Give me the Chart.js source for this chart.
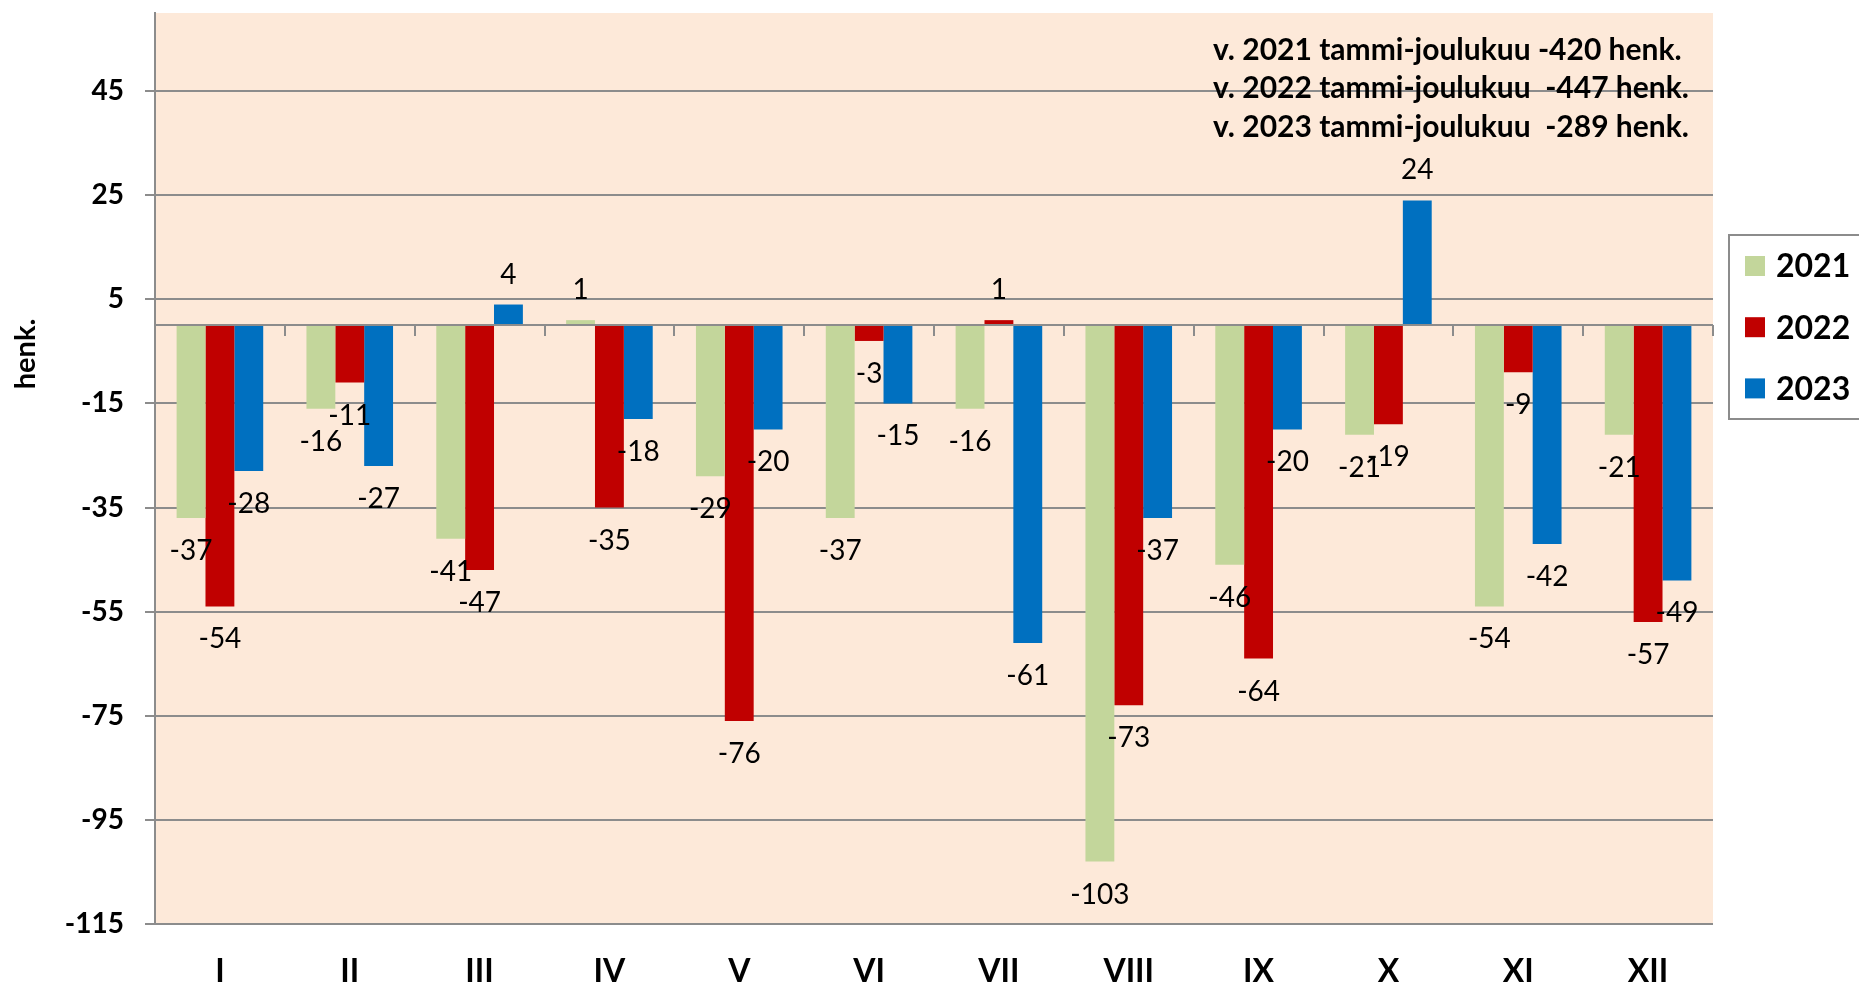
<!DOCTYPE html>
<html><head><meta charset="utf-8">
<script src="https://cdn.jsdelivr.net/npm/chart.js@4/dist/chart.umd.min.js"></script>
<style>html,body{margin:0;padding:0;background:#fff;}canvas{display:block;}</style>
</head><body>
<canvas id="c" width="1859" height="989"></canvas>
<script>
// ---- data ----
const months = ['I','II','III','IV','V','VI','VII','VIII','IX','X','XI','XII'];
const seriesNames = ['2021','2022','2023'];
const values2021 = [-37,-16,-41,1,-29,-37,-16,-103,-46,-21,-54,-21];
const values2022 = [-54,-11,-47,-35,-76,-3,1,-73,-64,-19,-9,-57];
const values2023 = [-28,-27,4,-18,-20,-15,-61,-37,-20,24,-42,-49];
const yTicks = [-115,-95,-75,-55,-35,-15,5,25,45];
const yMin = -115, yMax = 60;
const yTitle = 'henk.';
const notes = [
  'v. 2021 tammi-joulukuu -420 henk.',
  'v. 2022 tammi-joulukuu  -447 henk.',
  'v. 2023 tammi-joulukuu  -289 henk.'
];

// ---- styles ----
const FONT = "Lato, 'Open Sans', sans-serif";
const colors = ['#C3D69B','#C00000','#0070C0'];
const GRID = '#8c8c8c';
const PLOT_BG = '#FDE9D9';

const bgPlugin = {
  id: 'bg',
  beforeDraw(chart) {
    const {ctx, chartArea: a} = chart;
    ctx.save();
    ctx.fillStyle = PLOT_BG;
    ctx.fillRect(a.left, a.top, a.right - a.left, a.bottom - a.top);
    ctx.restore();
  }
};

const overlayPlugin = {
  id: 'overlay',
  afterDatasetsDraw(chart) {
    const {ctx, chartArea: a, scales} = chart;
    const xs = scales.x, ys = scales.y;
    const y0 = Math.round(ys.getPixelForValue(0));
    ctx.save();
    // zero (category) axis line with tick marks
    ctx.strokeStyle = GRID;
    ctx.lineWidth = 2;
    ctx.beginPath();
    ctx.moveTo(a.left, y0);
    ctx.lineTo(a.right, y0);
    const n = months.length;
    for (let i = 1; i <= n; i++) {
      const bx = i < n ? (xs.getPixelForValue(i - 1) + xs.getPixelForValue(i)) / 2 : a.right;
      const px = Math.round(bx);
      ctx.moveTo(px, y0);
      ctx.lineTo(px, y0 + 11);
    }
    ctx.stroke();

    // data labels
    ctx.fillStyle = '#000';
    ctx.font = '28px ' + FONT;
    ctx.textAlign = 'center';
    ctx.textBaseline = 'middle';
    chart.data.datasets.forEach((ds, di) => {
      const meta = chart.getDatasetMeta(di);
      meta.data.forEach((el, i) => {
        const v = ds.data[i];
        const ty = v < 0 ? el.y + 33 : el.y - 30;
        ctx.fillText(String(v), el.x, ty);
      });
    });
    ctx.restore();
  },
  afterDraw(chart) {
    const {ctx, chartArea: a} = chart;
    ctx.save();
    // y axis title
    ctx.fillStyle = '#000';
    ctx.font = 'bold 29px ' + FONT;
    ctx.textAlign = 'center';
    ctx.textBaseline = 'middle';
    ctx.translate(26, 354);
    ctx.rotate(-Math.PI / 2);
    ctx.fillText(yTitle, 0, 0);
    ctx.restore();

    // notes
    ctx.save();
    ctx.fillStyle = '#000';
    ctx.font = 'bold 30px ' + FONT;
    ctx.textAlign = 'left';
    ctx.textBaseline = 'middle';
    notes.forEach((t, i) => ctx.fillText(t, 1213, 50 + i * 38.5));
    ctx.restore();

    // legend
    ctx.save();
    const lx = a.right + 16, ly = 235, lh = 184;
    ctx.fillStyle = '#fff';
    ctx.fillRect(lx, ly, 200, lh);
    ctx.strokeStyle = GRID;
    ctx.lineWidth = 2;
    ctx.strokeRect(lx, ly, 200, lh);
    ctx.font = 'bold 32px ' + FONT;
    ctx.textAlign = 'left';
    ctx.textBaseline = 'middle';
    chart.data.datasets.forEach((ds, i) => {
      const cy = 266 + i * 61.2;
      ctx.fillStyle = ds.backgroundColor;
      ctx.fillRect(lx + 16, cy - 10, 20, 20);
      ctx.fillStyle = '#000';
      ctx.fillText(ds.label, lx + 47, cy + 1);
    });
    ctx.restore();
  }
};

const chart = new Chart(document.getElementById('c'), {
  type: 'bar',
  data: {
    labels: months,
    datasets: [
      {label: seriesNames[0], data: values2021, backgroundColor: colors[0]},
      {label: seriesNames[1], data: values2022, backgroundColor: colors[1]},
      {label: seriesNames[2], data: values2023, backgroundColor: colors[2]}
    ]
  },
  options: {
    responsive: false,
    animation: false,
    devicePixelRatio: 1,
    layout: {padding: {left: 0, top: 13, right: 146, bottom: 0}},
    datasets: {bar: {categoryPercentage: 0.667, barPercentage: 1, borderWidth: 0}},
    plugins: {legend: {display: false}, tooltip: {enabled: false}, title: {display: false}},
    scales: {
      x: {
        type: 'category',
        grid: {display: false, drawTicks: false},
        border: {display: false},
        ticks: {color: '#000', font: {family: FONT, size: 32, weight: 'bold'}, padding: 28, maxRotation: 0, autoSkip: false},
        afterFit(s) { s.height = 65; s.paddingLeft = 0; s.paddingRight = 0; }
      },
      y: {
        min: yMin, max: yMax,
        afterBuildTicks(s) { s.ticks = yTicks.map(v => ({value: v})); },
        grid: {color: GRID, lineWidth: 2, drawTicks: true, tickLength: 10, tickColor: GRID},
        border: {display: true, color: GRID, width: 2},
        ticks: {color: '#000', font: {family: FONT, size: 28, weight: 'bold'}, padding: 21},
        afterFit(s) { s.width = 155; s.paddingTop = 0; s.paddingBottom = 0; }
      }
    }
  },
  plugins: [bgPlugin, overlayPlugin]
});
</script>
</body></html>
